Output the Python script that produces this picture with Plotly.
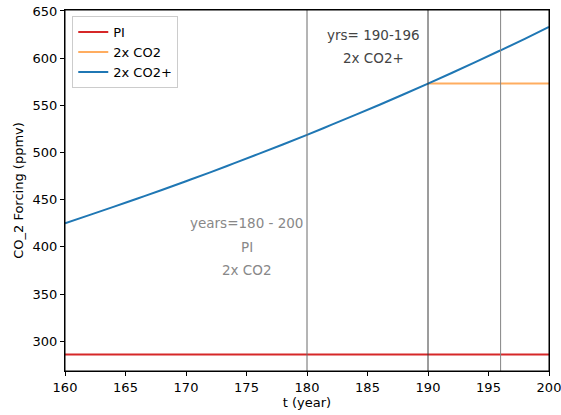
import plotly.graph_objects as go

# Data
years = [160, 162, 164, 166, 168, 170, 172, 174, 176, 178, 180,
         182, 184, 186, 188, 190, 192, 194, 196, 198, 200]
co2_plus = [425.1, 433.7, 442.4, 451.3, 460.3, 469.6, 479.0, 488.7, 498.5, 508.5, 518.7,
            529.2, 539.8, 550.6, 561.7, 573.0, 584.5, 596.3, 608.3, 620.5, 633.0]
pi_years = [160, 200]
pi_vals = [286.0, 286.0]
co2x2_years = [190, 200]
co2x2_vals = [573.0, 573.0]
vline_years = [180, 190, 196]
vline_colors = ["#6a6a6a", "#3a3a3a", "#858585"]

fig = go.Figure()
fig.add_trace(go.Scatter(x=pi_years, y=pi_vals, mode="lines", name="PI",
                         line=dict(color="#d62728", width=2)))
fig.add_trace(go.Scatter(x=co2x2_years, y=co2x2_vals, mode="lines", name="2x CO2",
                         line=dict(color="#ffad60", width=2)))
fig.add_trace(go.Scatter(x=years, y=co2_plus, mode="lines", name="2x CO2+",
                         line=dict(color="#1f77b4", width=2, shape="spline")))

for xv, c in zip(vline_years, vline_colors):
    fig.add_vline(x=xv, line=dict(color=c, width=1))

# plot frame
fig.add_shape(type="rect", xref="x domain", yref="y domain", x0=0, x1=1, y0=0, y1=1,
              line=dict(color="black", width=1), layer="above")

ann = [
    (185.5, 625, "yrs= 190-196", "#444444"),
    (185.5, 600, "2x CO2+", "#444444"),
    (175, 425, "years=180 - 200", "#888888"),
    (175, 400, "PI", "#888888"),
    (175, 375, "2x CO2", "#888888"),
]
for x, y, t, c in ann:
    fig.add_annotation(x=x, y=y, text=t, showarrow=False,
                       font=dict(color=c, size=13.5, family="DejaVu Sans"))

axis_common = dict(showgrid=False, zeroline=False, showline=True, linecolor="black",
                   linewidth=1, mirror=True, ticks="outside", ticklen=4, tickcolor="black",
                   tickfont=dict(size=13, color="black"), automargin=False,
                   ticklabeloverflow="allow")
fig.update_xaxes(range=[160, 200], tickvals=[160, 165, 170, 175, 180, 185, 190, 195, 200],
                 title=dict(text="t (year)", font=dict(size=13), standoff=4), **axis_common)
fig.update_yaxes(range=[268.5, 651], tickvals=[300, 350, 400, 450, 500, 550, 600, 650],
                 title=dict(text="CO_2 Forcing (ppmv)", font=dict(size=13), standoff=6), **axis_common)

fig.update_layout(
    width=561, height=415,
    margin=dict(l=65, r=12, t=10, b=44),
    plot_bgcolor="white", paper_bgcolor="white",
    font=dict(family="DejaVu Sans", size=13, color="black"),
    legend=dict(x=0.015, y=0.983, xanchor="left", yanchor="top",
                bgcolor="rgba(255,255,255,0.8)", bordercolor="#cccccc", borderwidth=1,
                font=dict(size=13), tracegroupgap=0, itemwidth=30),
    showlegend=True,
)

fig.write_html("out.html")
